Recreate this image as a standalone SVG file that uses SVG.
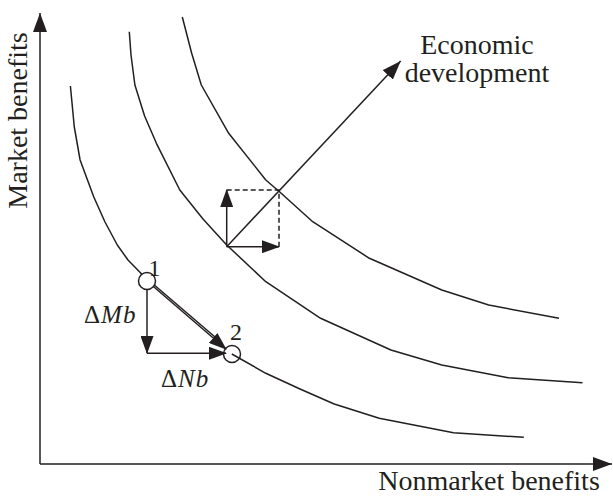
<svg xmlns="http://www.w3.org/2000/svg" width="613" height="496" viewBox="0 0 613 496">
<style>
.ln{fill:none;stroke:#231f20;stroke-width:1.5;stroke-linejoin:round}
.ds{fill:none;stroke:#231f20;stroke-width:1.5;stroke-dasharray:5,3}
text{font-family:'Liberation Serif',serif;fill:#231f20}
.it{font-style:italic}
</style>
<defs>
<marker id="big" markerWidth="19" markerHeight="14" refX="19" refY="7" orient="auto" markerUnits="userSpaceOnUse"><path d="M0,0 L19,7 L0,14 Z" fill="#231f20"/></marker>
<marker id="sm" markerWidth="18" markerHeight="13" refX="17" refY="6.5" orient="auto" markerUnits="userSpaceOnUse"><path d="M0,0 L18,6.5 L0,13 Z" fill="#231f20"/></marker>
</defs>
<g id="axes">
<line class="ln" x1="40" y1="464" x2="40" y2="13" marker-end="url(#big)"/>
<line class="ln" x1="40" y1="464" x2="612" y2="464" marker-end="url(#big)"/>
</g>
<g id="curve-inner">
<polyline class="ln" points="70.4,86 74.3,127 80.1,160 93.8,197 105,222 117.3,245 128,260 140.7,273 146.6,281"/>
<polyline class="ln" points="231.8,354 265.8,373.3 300,389 334.2,404 379.2,418.3 453.5,432.7 523.8,437.3"/>
</g>
<g id="curve-middle">
<polyline class="ln" points="129.3,31.7 131,55 134.9,85 144.6,116 156.4,143.3 179.8,190 203,219 226.7,245 265.8,281.7 320.6,318.3 390.9,350 441.8,365 508.2,377.7 582.5,382.7"/>
</g>
<g id="curve-outer">
<polyline class="ln" points="182.3,17 191.6,53 201.3,85 228.7,133.3 265.8,180 279.5,191.7 312.7,221.7 369.4,258.3 441.8,290 488.7,305 559,318.3"/>
</g>
<g id="connectors">
<line class="ln" x1="226.7" y1="246.7" x2="400.7" y2="61" marker-end="url(#big)"/>
<polyline class="ds" points="226.7,190 279,190 279,246.7"/>
<line class="ln" x1="226.7" y1="246.7" x2="226.7" y2="190" marker-end="url(#sm)"/>
<line class="ln" x1="226.7" y1="246.7" x2="279" y2="246.7" marker-end="url(#sm)"/>
<line class="ln" x1="147" y1="281" x2="147" y2="353" marker-end="url(#sm)"/>
<line class="ln" x1="147" y1="353.3" x2="226" y2="353.3" marker-end="url(#sm)"/>
<line class="ln" x1="147" y1="281" x2="226" y2="349" marker-end="url(#sm)"/>
<line class="ln" x1="149" y1="280.5" x2="222" y2="343" stroke-width="1"/>
</g>
<g id="point1">
<circle cx="147" cy="281" r="8.5" fill="#fff" stroke="#231f20" stroke-width="1.5"/>
<text x="154.5" y="276" font-size="24" text-anchor="middle">1</text>
</g>
<g id="point2">
<circle cx="232" cy="354" r="8.5" fill="none" stroke="#231f20" stroke-width="1.5"/>
<text x="236" y="340" font-size="24" text-anchor="middle">2</text>
</g>
<g id="labels">
<text x="84" y="323" font-size="25" letter-spacing="1">Δ<tspan class="it">Mb</tspan></text>
<text x="161" y="387" font-size="25" letter-spacing="1">Δ<tspan class="it">Nb</tspan></text>
<text x="477" y="53.5" font-size="28" text-anchor="middle">Economic</text>
<text x="477" y="82" font-size="28" text-anchor="middle">development</text>
<text x="489" y="490" font-size="28" text-anchor="middle">Nonmarket benefits</text>
<text font-size="28" text-anchor="middle" transform="translate(27,120.5) rotate(-90)">Market benefits</text>
</g>
</svg>
